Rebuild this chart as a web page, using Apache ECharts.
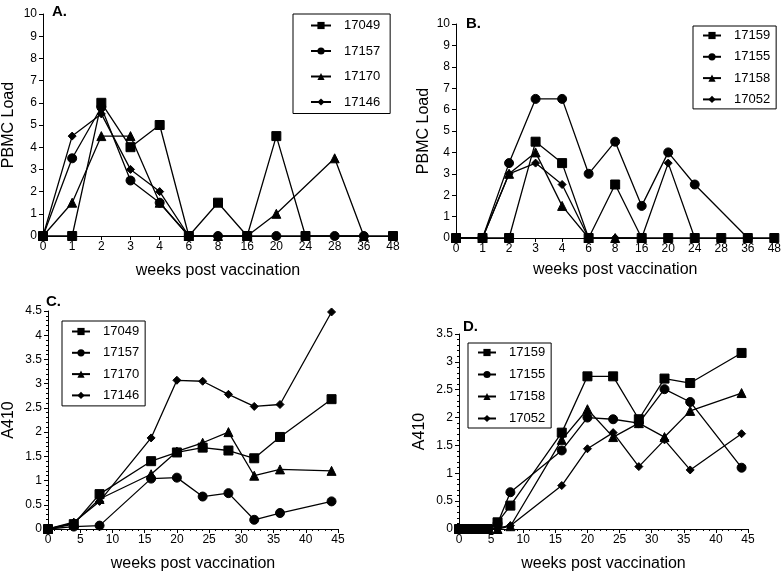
<!DOCTYPE html>
<html>
<head>
<meta charset="utf-8">
<script src="https://cdn.jsdelivr.net/npm/echarts@6/dist/echarts.min.js"></script>
<style>
  html, body { margin: 0; padding: 0; background: #fff; }
  #chart { width: 784px; height: 573px; }
</style>
</head>
<body>
<div id="chart"></div>
<script>
// weeks used as categories in A and B
const loadWeeks = ['0', '1', '2', '3', '4', '6', '8', '16', '20', '24', '28', '36', '48'];

// panel A, PBMC load
const a17049 = [0, 0, 6, 4, 5, 0, 1.5, 0, 4.5, 0, null, null, 0];
const a17157 = [0, 3.5, 5.8, 2.5, 1.5, 0, 0, 0, 0, null, 0, 0, null];
const a17170 = [0, 1.5, 4.5, 4.5, 1.5, 0, 0, 0, 1, null, 3.5, 0, null];
const a17146 = [0, 4.5, 5.5, 3, 2, 0, null, null, null, null, null, null, null];

// panel B, PBMC load
const b17159 = [0, 0, 0, 4.5, 3.5, 0, 2.5, 0, 0, 0, 0, 0, 0];
const b17155 = [0, 0, 3.5, 6.5, 6.5, 3, 4.5, 1.5, 4, 2.5, null, 0, null];
const b17158 = [0, 0, 3, 4, 1.5, 0, 0, 0, null, null, null, null, null];
const b17052 = [0, 0, 3, 3.5, 2.5, 0, 0, 0, 3.5, 0, null, null, null];

// panel C, A410
const cWeeks = [0, 4, 8, 16, 20, 24, 28, 32, 36, 44];
const c17049 = [0, 0.1, 0.72, 1.4, 1.58, 1.68, 1.62, 1.46, 1.9, 2.68];
const c17157 = [0, 0.05, 0.07, 1.04, 1.06, 0.67, 0.74, 0.19, 0.33, 0.57];
const c17170 = [0, 0.12, 0.62, 1.13, 1.6, 1.78, 2.0, 1.1, 1.23, 1.2];
const c17146 = [0, 0.14, 0.57, 1.88, 3.07, 3.05, 2.78, 2.53, 2.57, 4.48];

// panel D, A410
const dWeeks = [0, 0.5, 1, 1.5, 2, 2.5, 3, 3.5, 4, 4.5, 6, 8, 16, 20, 24, 28, 32, 36, 44];
const d17159 = [0, 0, 0, 0, 0, 0, 0, 0, 0, 0, 0.12, 0.42, 1.73, 2.74, 2.74, 1.97, 2.7, 2.62, 3.16];
const d17155 = [0, 0, 0, 0, 0, 0, 0, 0, 0, 0, 0.1, 0.66, 1.41, 2.0, 1.97, 1.9, 2.51, 2.28, 1.1];
const d17158 = [0, 0, 0, 0, 0, 0, 0, 0, 0, 0, 0, 0.05, 1.6, 2.15, 1.65, 1.9, 1.65, 2.12, 2.44];
const d17052 = [0, 0, 0, 0, 0, 0, 0, 0, 0, 0, 0.02, 0.06, 0.78, 1.44, 1.73, 1.12, 1.6, 1.06, 1.71];

const FONT = 'Liberation Sans';
const shapes = ['rect', 'circle', 'triangle', 'diamond'];
const sizes = [9, 9, 9, 8];

function pairs(xs, ys) {
  return xs.map((x, i) => [x, ys[i]]);
}

function mkSeries(name, data, k, idx) {
  return {
    name: name,
    type: 'line',
    xAxisIndex: idx,
    yAxisIndex: idx,
    data: data,
    connectNulls: true,
    symbol: shapes[k],
    symbolSize: sizes[k],
    showAllSymbol: true,
    animation: false,
    lineStyle: { color: '#000', width: 1.3 },
    itemStyle: { color: '#000', borderColor: '#000' },
    z: 10 - k
  };
}

function mkLegend(names, left, top, gap, pad, iw) {
  return {
    orient: 'vertical',
    left: left,
    top: top,
    data: names,
    itemWidth: iw,
    itemHeight: 9,
    itemGap: gap,
    padding: pad,
    borderColor: '#000',
    borderWidth: 1,
    selectedMode: false,
    textStyle: { fontFamily: FONT, fontSize: 13, color: '#000', padding: [0, 0, 0, 8] }
  };
}

function catAxis(idx, nameGap) {
  return {
    type: 'category',
    gridIndex: idx,
    data: loadWeeks,
    boundaryGap: false,
    name: 'weeks post vaccination',
    nameLocation: 'middle',
    nameGap: nameGap,
    nameTextStyle: { fontFamily: FONT, fontSize: 16, color: '#000' },
    axisLine: { lineStyle: { color: '#000', width: 1 } },
    axisTick: { interval: 0, length: 4, lineStyle: { color: '#000' } },
    axisLabel: { interval: 0, fontFamily: FONT, fontSize: 12, color: '#000', margin: 5 },
    splitLine: { show: false }
  };
}

function valX(idx) {
  return {
    type: 'value',
    gridIndex: idx,
    min: 0, max: 45, interval: 5,
    name: 'weeks post vaccination',
    nameLocation: 'middle',
    nameGap: 27,
    nameTextStyle: { fontFamily: FONT, fontSize: 16, color: '#000' },
    axisLine: { onZero: false, lineStyle: { color: '#000', width: 1 } },
    axisTick: { length: 4, lineStyle: { color: '#000' } },
    minorTick: { show: true, splitNumber: 5, length: 2, lineStyle: { color: '#000' } },
    axisLabel: { fontFamily: FONT, fontSize: 12, color: '#000', margin: 5 },
    splitLine: { show: false }
  };
}

function valY(idx, max, name, nameGap, minor) {
  return {
    type: 'value',
    gridIndex: idx,
    min: 0, max: max, interval: max > 5 ? 1 : 0.5,
    name: name,
    nameLocation: 'middle',
    nameGap: nameGap,
    nameTextStyle: { fontFamily: FONT, fontSize: 16, color: '#000' },
    axisLine: { show: true, lineStyle: { color: '#000', width: 1 } },
    axisTick: { show: true, length: 4, lineStyle: { color: '#000' } },
    minorTick: { show: minor, splitNumber: 5, length: 2, lineStyle: { color: '#000' } },
    axisLabel: { fontFamily: FONT, fontSize: 12, color: '#000', margin: 6 },
    splitLine: { show: false }
  };
}

function panelTitle(text, left, top) {
  return { text: text, left: left, top: top, padding: 0,
    textStyle: { fontFamily: FONT, fontSize: 15, fontWeight: 'bold', color: '#000' } };
}

const namesAC = ['17049', '17157', '17170', '17146'];
const namesBD = ['17159', '17155', '17158', '17052'];

const chart = echarts.init(document.getElementById('chart'), null, { renderer: 'canvas' });
chart.setOption({
  backgroundColor: '#fff',
  animation: false,
  title: [
    panelTitle('A.', 52, 4),
    panelTitle('B.', 466, 16),
    panelTitle('C.', 46, 294),
    panelTitle('D.', 463, 319)
  ],
  grid: [
    { left: 40, top: 14, width: 353, height: 222 },
    { left: 456, top: 24, width: 320, height: 214 },
    { left: 45, top: 311, width: 293, height: 221 },
    { left: 459, top: 334, width: 289, height: 198 }
  ],
  legend: [
    mkLegend(namesAC, 293, 14, 12.5, [5, 10, 5, 17], 20),
    mkLegend(namesBD, 693, 26, 8.3, [3, 6, 3, 9], 18),
    mkLegend(namesAC, 62, 321, 8.3, [4, 6, 4, 9], 18),
    mkLegend(namesBD, 468, 343, 9, [3, 6, 3, 9], 18)
  ],
  xAxis: [catAxis(0, 27), catAxis(1, 24), valX(2), valX(3)],
  yAxis: [
    valY(0, 10, 'PBMC Load', 26, false),
    valY(1, 10, 'PBMC Load', 24, false),
    valY(2, 4.5, 'A410', 31, true),
    valY(3, 3.5, 'A410', 31, true)
  ],
  series: [
    mkSeries('17049', a17049, 0, 0),
    mkSeries('17157', a17157, 1, 0),
    mkSeries('17170', a17170, 2, 0),
    mkSeries('17146', a17146, 3, 0),
    mkSeries('17159', b17159, 0, 1),
    mkSeries('17155', b17155, 1, 1),
    mkSeries('17158', b17158, 2, 1),
    mkSeries('17052', b17052, 3, 1),
    mkSeries('17049', pairs(cWeeks, c17049), 0, 2),
    mkSeries('17157', pairs(cWeeks, c17157), 1, 2),
    mkSeries('17170', pairs(cWeeks, c17170), 2, 2),
    mkSeries('17146', pairs(cWeeks, c17146), 3, 2),
    mkSeries('17159', pairs(dWeeks, d17159), 0, 3),
    mkSeries('17155', pairs(dWeeks, d17155), 1, 3),
    mkSeries('17158', pairs(dWeeks, d17158), 2, 3),
    mkSeries('17052', pairs(dWeeks, d17052), 3, 3)
  ]
});
</script>
</body>
</html>
